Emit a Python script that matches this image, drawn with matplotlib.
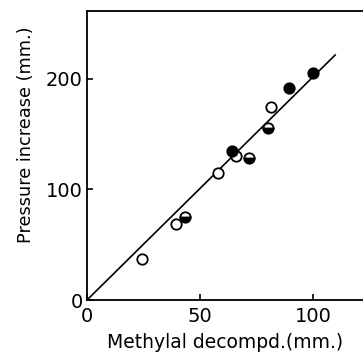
import matplotlib
matplotlib.use("Agg")
import matplotlib.pyplot as plt

# open circles
open_x = [24.3, 39.4, 57.8, 65.9, 81.4]
open_y = [37.4, 68.5, 115.2, 130.0, 174.4]

# half-filled circles
half_x = [43.5, 71.8, 80.2]
half_y = [74.8, 128.2, 155.9]

# filled circles
filled_x = [64.2, 89.5, 100.1]
filled_y = [134.6, 191.6, 205.7]

# fitted line
line_x = [0, 109.7]
line_y = [0, 221.7]

x_ticks = [0, 50, 100]
y_ticks = [0, 100, 200]

fig = plt.figure(figsize=(3.63, 3.57), dpi=100)
ax = fig.add_axes([87 / 363, 57 / 357, 1 - 87 / 363, 289 / 357])

ax.plot(line_x, line_y, color="black", lw=1.2, zorder=1)
ax.plot(open_x, open_y, "o", ms=7.5, mfc="white", mec="black", mew=1.3, zorder=2)
ax.plot(half_x, half_y, "o", ms=7.5, fillstyle="bottom", mfc="black",
        mfcalt="white", mec="black", mew=1.3, zorder=2)
ax.plot(filled_x, filled_y, "o", ms=7.5, mfc="black", mec="black", mew=1.3, zorder=2)

ax.set_xlim(0, 122)
ax.set_ylim(0, 261.5)
ax.set_xticks(x_ticks)
ax.set_yticks(y_ticks)
ax.tick_params(direction="in", length=4, width=1.2, labelsize=14)
ax.tick_params(axis="x", pad=5)
ax.tick_params(axis="y", pad=3)
ax.spines["right"].set_visible(False)
for s in ["left", "bottom", "top"]:
    ax.spines[s].set_linewidth(1.3)

ax.set_xlabel("Methylal decompd.(mm.)", fontsize=13.5, labelpad=5)
ax.set_ylabel("Pressure increase (mm.)", fontsize=12.8)
ax.yaxis.set_label_coords(-0.19, 0.571)

fig.savefig("out.png", dpi=100)
